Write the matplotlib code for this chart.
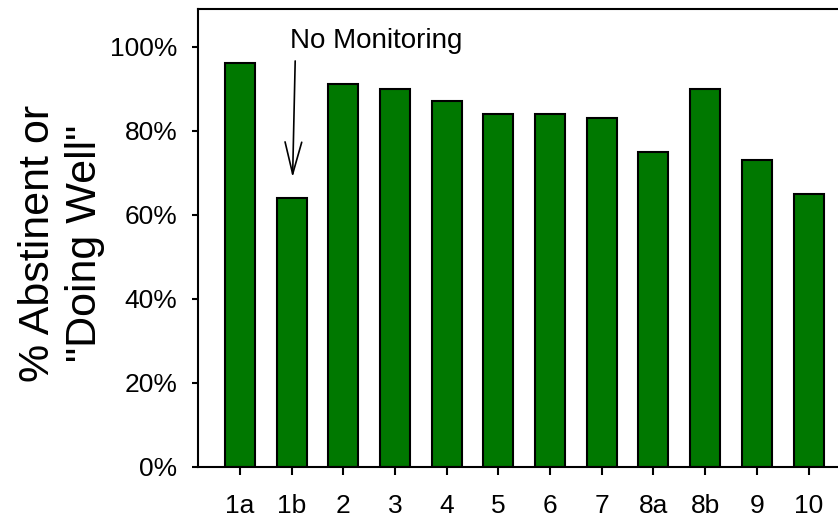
import matplotlib
matplotlib.use("Agg")
import matplotlib.pyplot as plt
import numpy as np

# study labels and % abstinent / doing well
studies = ["1a", "1b", "2", "3", "4", "5", "6", "7", "8a", "8b", "9", "10"]
pct_well = [96, 64, 91, 90, 87, 84, 84, 83, 75, 90, 73, 65]
y_ticks = [0, 20, 40, 60, 80, 100]

plt.rcParams["font.family"] = ["Liberation Sans", "DejaVu Sans"]

fig = plt.figure(figsize=(8.38, 5.2), dpi=100)
ax = fig.add_axes([198 / 838, 53.3 / 520, 1 - 198 / 838, (466.7 - 9.3) / 520])

x = np.arange(len(studies))
ax.bar(x, pct_well, width=0.58, color="#007800", edgecolor="black", linewidth=1.5)

ax.set_xlim(-0.81, 11.57)
ax.set_ylim(0, 108.9)
ax.set_xticks(x)
ax.set_xticklabels(studies, fontsize=19)
ax.set_yticks(y_ticks)
ax.set_yticklabels([f"{v}%" for v in y_ticks], fontsize=19)

for side in ["left", "bottom", "top"]:
    ax.spines[side].set_linewidth(1.5)
ax.spines["right"].set_visible(False)
ax.tick_params(axis="y", length=4.5, width=1.5, pad=10.5)
ax.tick_params(axis="x", length=5.5, width=1.5, pad=14)

# arrow pointing at the no-monitoring study
ax.annotate("", xy=(1.02, 68.9), xytext=(1.07, 96.6),
            arrowprops=dict(arrowstyle="->,head_length=2.3,head_width=0.6",
                            lw=1.2, color="black", shrinkA=0, shrinkB=0))
ax.text(0.97, 99.6, "No Monitoring", fontsize=20, ha="left", va="baseline")

fig.text(61.5 / 838, 1 - 243.3 / 520, '% Abstinent or\n"Doing Well"', fontsize=31,
         rotation=90, ha="center", va="center", multialignment="center")

plt.savefig("out.png", dpi=100)
